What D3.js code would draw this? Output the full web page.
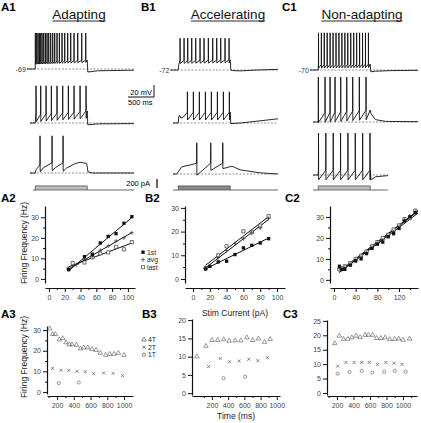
<!DOCTYPE html>
<html><head><meta charset="utf-8">
<script src="https://cdn.jsdelivr.net/npm/d3@7"></script>
<style>
body{margin:0;background:#fff}
svg{display:block}
text{font-family:"Liberation Sans",Arial,Helvetica,sans-serif}
</style>
</head><body>
<svg id="c" width="421" height="423"></svg>
<script>
// ---------------- DATA ----------------
const titles = ["Adapting", "Accelerating", "Non-adapting"];
const panelRow1 = ["A1", "B1", "C1"];
const panelRow2 = ["A2", "B2", "C2"];
const panelRow3 = ["A3", "B3", "C3"];
const restLabels = ["-69", "-72", "-70"];

// spike times (ms from trace start); stimulus 100-1100 ms
const spikesA1 = [102,128,154,180,205,231,263,295,327,359,397,436,474,519,564,615,667,724,782,846,917,994,1071];
const spikesA2 = [115,205,308,410,519,628,737,846,962,1077];
const spikesA3 = [192,423,635];
const spikesB1 = [135,212,282,359,436,519,596,679,763,840,917,1000,1077];
const spikesB2 = [276,391,506,622,737,853,968,1083];
const spikesB3 = [456,725,956];
const spikesC1 = [105,160,215,272,328,385,442,498,555,612,668,725,782,838,895,952,1008,1065];
const spikesC2 = [102,231,327,423,532,648,763,890,1019];
const spikesC3 = [105,246,388,529,671,812,954,1095];

// subthreshold envelopes [ms, mV above rest]
const envA1 = [[-60,0],[100,0],[102,12],[1100,15],[1112,-5],[1300,-3],[2000,-2]];
const envA2 = [[0,0],[100,0],[112,14],[1100,20],[1112,-3],[1300,-1.5],[2000,-1]];
const envA3 = [[0,0],[100,0],[120,6],[170,11],[192,15],[198,2],[260,9],[423,17],[428,4],[490,9],[635,17],[640,3],[700,8],[850,15],[960,18],[1090,16],[1115,2],[1200,0],[2000,0]];
const envB1 = [[-50,0],[100,0],[110,9],[125,13],[135,16],[1100,17],[1112,0],[1150,-1],[1300,-1.5],[1600,0],[2020,1]];
const envB2 = [[0,0],[100,0],[110,10],[125,13],[150,8],[200,10],[276,18],[1100,18],[1112,-1],[1300,0],[2020,7]];
const envB3 = [[0,0],[70,0],[167,12],[327,15],[456,18],[460,-2],[725,18],[729,6],[956,18],[960,9],[1135,13],[1290,7],[1670,2],[2020,0]];
const envC1 = [[-60,0],[100,0],[104,9],[1100,10],[1112,-3],[1200,-2],[1500,-1],[2020,-0.5]];
const envC2 = [[0,0],[100,0],[101,15],[1100,20],[1115,14],[1200,4],[1400,1],[2020,0.5]];
const envC3 = [[0,0],[100,0],[104,8],[1100,8],[1115,-8],[1200,-3],[1440,-1]];

const peaksMV = [[60,62,62],[53,52,52],[62,75,70]];   // spike peak, mV above rest
const ahpMV = [[4,12,0],[5,13,0],[6,16,16]];           // after-hyperpolarisation depth
const traceRange = [[[-60,2000],[0,2000],[0,2000]],[[-50,2020],[0,2020],[0,2020]],[[-60,2020],[0,2020],[0,1440]]];
const stimRange = [[55,2000],[0,2020],[0,1440]];
const stimOn = 100, stimOff = 1100;
const stimAmp = [90, 90, 90]; // pA

// f-I data
const a2X1 = [25,45,55,65,75,85,95,105];
const a2First = [4.5,10.8,12,17.5,20.7,22,27.1,30.3];
const a2XA = [25,35,45,55,65,75,85,95,105];
const a2Avg = [4.8,7,9.5,11,14,16,18.5,20,22.5];
const a2XL = [25,30,45,55,65,75,85,95,105];
const a2Last = [5,7.7,8,10.5,12.4,12.9,15.6,14.4,17.9];

const b2X1 = [15,20,30,40,50,60,70,80,90];
const b2First = [4.2,5.3,7.2,7.5,10.3,13.1,14.2,15.2,17];
const b2XA = [15,20,30,40,50,60,70,80,90];
const b2Avg = [4.5,5.5,9,12,15,17,19.5,21.5,25.5];
const b2XL = [15,30,40,60,70,80,90];
const b2Last = [4.6,10,13.8,20.1,19.7,22.5,26.5];

const c2X = [10,15,20,30,40,50,60,70,80,90,100,110,120,130,140,150];
const c2First = [6.5,5,5,7,9,10,12.5,15,17,18,20.5,22,24.5,28,30,32];
const c2Avg = [5.5,5,6,7.5,9.5,11,13,15.5,17.5,19,21,23,25.5,28.5,30.5,32.5];
const c2Last = [5,5.5,6.5,8,10,11.5,13.5,16,18,20,21.5,24,26,29,29.5,33];

// instantaneous frequency vs time
const a3T4x = [112,148,180,228,268,307,347,379,431,479,518,566,618,666,717,781,829,881,932,1000];
const a3T4y = [30.7,28,28,25.4,26,24,23,23,22.8,21,21.5,21.5,20.8,20.3,18.9,17.9,18.4,18.4,18.9,17.9];
const a3T2x = [148,248,339,439,538,638,757,869,984];
const a3T2y = [11.5,10.5,10.5,10,9.8,8.9,9.2,9,7.9];
const a3T1x = [220,459];
const a3T1y = [4.3,4.6];

const b3T4x = [15,126,200,270,344,413,487,557,631,704,774,848,918];
const b3T4y = [10,12.9,14.5,14.5,14.7,14.3,14.4,14.4,15.2,14.5,14.9,14,14.8];
const b3T2x = [159,302,417,536,655,766,885];
const b3T2y = [7.3,9.5,8.6,8.8,9.3,8.9,9.7];
const b3T1x = [344,610];
const b3T1y = [4.1,4.5];

const c3T4x = [172,228,280,332,380,432,480,540,580,632,680,732,784,840,900,948,1000,1080];
const c3T4y = [17.2,19.8,18.7,18.7,19.2,19.8,19.3,20.1,20.1,20.1,19,19,19.2,18.6,18.7,18.8,18.4,18.8];
const c3T2x = [208,308,408,500,592,692,792,892,988];
const c3T2y = [9.3,10.6,10.6,10.6,10.6,9.9,10.6,10.3,9.9];
const c3T1x = [208,352,500,628,772,900,1032];
const c3T1y = [6.7,7.3,7.7,7.1,7.4,7.7,7.4];

const fiLegend = ["1st", "avg", "last"];
const isiLegend = ["4T", "2T", "1T"];

// ---------------- DRAW ----------------
const svg = d3.select("#c");
const FONT = '"Liberation Sans",Arial,Helvetica,sans-serif';

// headings
const colTitleX = [79, 228, 362];
const colLabelX = [1, 141, 282];
titles.forEach((t,i)=>{
  const tx = svg.append("text").attr("x",colTitleX[i]).attr("y",19).attr("text-anchor","middle")
    .attr("font-size",13.5).attr("fill","#111").text(t);
  const bb = tx.node().getBBox();
  svg.append("line").attr("x1",bb.x).attr("x2",bb.x+bb.width).attr("y1",21).attr("y2",21)
    .attr("stroke","#111").attr("stroke-width",0.9);
  svg.append("text").attr("x",colLabelX[i]).attr("y",11).attr("font-size",11.5).attr("font-weight","bold").text(panelRow1[i]);
});
const row2LabelX = [1,145,285];
panelRow2.forEach((t,i)=>svg.append("text").attr("x",row2LabelX[i]).attr("y",202).attr("font-size",11.5).attr("font-weight","bold").text(t));
const row3LabelX = [1,142,283];
panelRow3.forEach((t,i)=>svg.append("text").attr("x",row3LabelX[i]).attr("y",318).attr("font-size",11.5).attr("font-weight","bold").text(t));

// ---- voltage traces ----
const colX0 = [30, 173, 313];
const restPx = [[69,123,173],[70,123,174],[70,122,175]];
const spikes = [[spikesA1,spikesA2,spikesA3],[spikesB1,spikesB2,spikesB3],[spikesC1,spikesC2,spikesC3]];
const envs = [[envA1,envA2,envA3],[envB1,envB2,envB3],[envC1,envC2,envC3]];

function interpEnv(env, t){
  if (t <= env[0][0]) return env[0][1];
  for (let i=1;i<env.length;i++){
    if (t <= env[i][0]){ const [a,va]=env[i-1],[b,vb]=env[i]; return va+(vb-va)*(t-a)/(b-a); }
  }
  return env[env.length-1][1];
}
function tracePoints(env, sp, peak, ahp, t0, t1){
  const ev = [];
  env.forEach(p=>{ if(!sp.some(s=>p[0]>=s && p[0]<=s+3)) ev.push([p[0],p[1]]); });
  sp.forEach(s=>{ ev.push([s, interpEnv(env,s)]); ev.push([s+0.8, peak]); ev.push([s+3, interpEnv(env,s+3)-ahp]); });
  ev.sort((a,b)=>a[0]-b[0]);
  return [[t0, interpEnv(env,t0)], ...ev.filter(e=>e[0]>t0 && e[0]<t1), [t1, interpEnv(env,t1)]];
}

for (let c=0;c<3;c++){
  const xT = d3.scaleLinear().domain([0,1000]).range([colX0[c], colX0[c]+52]);
  for (let r=0;r<3;r++){
    const yV = d3.scaleLinear().domain([0,100]).range([restPx[c][r], restPx[c][r]-60]);
    const [t0,t1] = traceRange[c][r];
    svg.append("line").attr("x1",xT(t0)).attr("x2",xT(t1)).attr("y1",yV(0)).attr("y2",yV(0))
      .attr("stroke","#777").attr("stroke-width",0.8).attr("stroke-dasharray","2,1.5");
    const pts = tracePoints(envs[c][r], spikes[c][r], peaksMV[c][r], ahpMV[c][r], t0, t1);
    svg.append("path").attr("d", d3.line().x(d=>xT(d[0])).y(d=>yV(d[1]))(pts))
      .attr("fill","none").attr("stroke","#111").attr("stroke-width",0.9).attr("stroke-linejoin","round");
  }
  // rest label
  svg.append("text").attr("x",xT(traceRange[c][0][0])-1).attr("y",restPx[c][0]+2.5).attr("text-anchor","end")
    .attr("font-size",7).attr("fill","#333").text(restLabels[c]);
  // stimulus
  const yI = d3.scaleLinear().domain([0,200]).range([190,181]);
  const [s0,s1] = stimRange[c];
  svg.append("path").attr("d", d3.line().x(d=>xT(d[0])).y(d=>yI(d[1]))([[s0,0],[stimOn,0]])).attr("stroke","#555").attr("stroke-width",0.9).attr("fill","none");
  svg.append("path").attr("d", d3.line().x(d=>xT(d[0])).y(d=>yI(d[1]))([[stimOff,0],[s1,0]])).attr("stroke","#555").attr("stroke-width",0.9).attr("fill","none");
  svg.append("rect").attr("x",xT(stimOn)).attr("y",yI(stimAmp[c])).attr("width",xT(stimOff)-xT(stimOn))
    .attr("height",yI(0)-yI(stimAmp[c])).attr("fill", c===1?"#8a8a8a":"#bdbdbd").attr("stroke","#555").attr("stroke-width",0.8);
}

// scale bars
{
  const xT = d3.scaleLinear().domain([0,500]).range([128,128+26]);
  const yV = d3.scaleLinear().domain([0,20]).range([97,85]);
  svg.append("path").attr("d",`M${xT(0)},${yV(0)}H${xT(500)}V${yV(20)}`).attr("fill","none").attr("stroke","#111").attr("stroke-width",1);
  svg.append("text").attr("x",xT(500)-2).attr("y",95).attr("text-anchor","end").attr("font-size",7.5).text("20 mV");
  svg.append("text").attr("x",xT(0)).attr("y",105).attr("font-size",7.5).text("500 ms");
  const yI = d3.scaleLinear().domain([0,200]).range([188,179]);
  svg.append("line").attr("x1",157).attr("x2",157).attr("y1",yI(0)).attr("y2",yI(200)).attr("stroke","#111").attr("stroke-width",1.3);
  svg.append("text").attr("x",150).attr("y",186).attr("text-anchor","end").attr("font-size",7.5).text("200 pA");
}

// ---- axis helpers ----
const fmt = d3.format("d");
function styleAxis(g){
  g.select(".domain").attr("stroke","#111").attr("stroke-width",1.2);
  g.selectAll(".tick line").attr("stroke","#111").attr("stroke-width",1);
  g.selectAll(".tick text").attr("font-size",7).attr("fill","#444").attr("font-family",FONT);
}
function yAxis(x, sc, major, minor){
  const g = svg.append("g").attr("transform",`translate(${x},0)`);
  g.call(d3.axisLeft(sc).tickValues(major).tickFormat(fmt).tickSize(4).tickSizeOuter(0).tickPadding(2));
  styleAxis(g);
  if (minor){ const m = svg.append("g").attr("transform",`translate(${x},0)`);
    m.call(d3.axisLeft(sc).tickValues(minor).tickSize(2).tickFormat("").tickSizeOuter(0)); m.select(".domain").remove(); styleAxis(m);}
}
function xAxis(y, sc, major, minor){
  const g = svg.append("g").attr("transform",`translate(0,${y})`);
  g.call(d3.axisBottom(sc).tickValues(major).tickFormat(fmt).tickSize(4).tickSizeOuter(0).tickPadding(3));
  styleAxis(g);
  if (minor){ const m = svg.append("g").attr("transform",`translate(0,${y})`);
    m.call(d3.axisBottom(sc).tickValues(minor).tickSize(2).tickFormat("").tickSizeOuter(0)); m.select(".domain").remove(); styleAxis(m);}
}
function fit(xs, ys){
  const mx = d3.mean(xs), my = d3.mean(ys);
  const b = d3.sum(xs.map((x,i)=>(x-mx)*(ys[i]-my))) / d3.sum(xs.map(x=>(x-mx)*(x-mx)));
  return {b, a: my - b*mx};
}
function drawFit(xs, ys, sx, sy, ext){
  const f = fit(xs, ys); const e = ext || d3.extent(xs);
  svg.append("path").attr("d", d3.line().x(d=>sx(d)).y(d=>sy(f.a+f.b*d))(e))
    .attr("stroke","#111").attr("stroke-width",1).attr("fill","none");
}
const sqFilled = d3.symbol().type(d3.symbolSquare).size(11);
const sqOpen = d3.symbol().type(d3.symbolSquare).size(10);
function points(xs, ys, sx, sy, kind, color){
  const g = svg.append("g");
  xs.forEach((x,i)=>{
    const tx = sx(x), ty = sy(ys[i]);
    if (kind==="filled") g.append("path").attr("d",sqFilled()).attr("transform",`translate(${tx},${ty})`).attr("fill","#111");
    else if (kind==="open") g.append("path").attr("d",sqOpen()).attr("transform",`translate(${tx},${ty})`).attr("fill","#fff").attr("stroke","#333").attr("stroke-width",0.7);
    else if (kind==="plus") g.append("path").attr("d",`M${tx-2},${ty}H${tx+2}M${tx},${ty-2}V${ty+2}`).attr("stroke","#333").attr("stroke-width",0.7);
    else if (kind==="tri") g.append("path").attr("d",d3.symbol().type(d3.symbolTriangle).size(9)()).attr("transform",`translate(${tx},${ty})`).attr("fill","none").attr("stroke",color||"#555").attr("stroke-width",0.6);
    else if (kind==="x") g.append("path").attr("d",`M${tx-1.5},${ty-1.5}L${tx+1.5},${ty+1.5}M${tx-1.5},${ty+1.5}L${tx+1.5},${ty-1.5}`).attr("stroke",color||"#555").attr("stroke-width",0.7);
    else if (kind==="circ") g.append("circle").attr("cx",tx).attr("cy",ty).attr("r",1.6).attr("fill","none").attr("stroke",color||"#555").attr("stroke-width",0.6);
  });
}

// ---- A2 ----
{
  const sx = d3.scaleLinear().domain([-5,109]).range([45,135]);
  const sy = d3.scaleLinear().domain([-2,35.5]).range([283,206]);
  yAxis(45, sy, [0,10,20,30], [5,15,25]);
  xAxis(288, sx, [0,20,40,60,80,100], [10,30,50,70,90]);
  drawFit(a2X1,a2First,sx,sy); drawFit(a2XA,a2Avg,sx,sy); drawFit(a2XL,a2Last,sx,sy);
  points(a2XL,a2Last,sx,sy,"open"); points(a2XA,a2Avg,sx,sy,"plus"); points(a2X1,a2First,sx,sy,"filled");
  svg.append("text").attr("transform","translate(27,243) rotate(-90)").attr("text-anchor","middle").attr("font-size",8.5).attr("fill","#222").text("Firing Frequency (Hz)");
  // legend
  const ly = [254.5,262,269.5];
  const kinds = ["filled","plus","open"];
  fiLegend.forEach((t,i)=>{
    points([0],[0],()=>143,()=>ly[i]-2.3,kinds[i]);
    svg.append("text").attr("x",147).attr("y",ly[i]).attr("font-size",6.8).attr("fill","#222").text(t);
  });
}
// ---- B2 ----
{
  const sx = d3.scaleLinear().domain([-9.5,109.5]).range([185,285]);
  const sy = d3.scaleLinear().domain([-1.7,30.8]).range([283,206]);
  yAxis(185, sy, [0,10,20,30], [5,15,25]);
  xAxis(288, sx, [0,20,40,60,80,100], [10,30,50,70,90]);
  drawFit(b2X1,b2First,sx,sy); drawFit(b2XA,b2Avg,sx,sy); drawFit(b2XL,b2Last,sx,sy);
  points(b2XL,b2Last,sx,sy,"open"); points(b2XA,b2Avg,sx,sy,"plus"); points(b2X1,b2First,sx,sy,"filled");
  svg.append("text").attr("x",235).attr("y",316).attr("text-anchor","middle").attr("font-size",8.5).attr("fill","#222").text("Stim Current (pA)");
}
// ---- C2 ----
{
  const sx = d3.scaleLinear().domain([-7.4,155]).range([330,418]);
  const sy = d3.scaleLinear().domain([-1.5,35.2]).range([283,206]);
  yAxis(330, sy, [0,10,20,30], [5,15,25]);
  xAxis(288, sx, [0,40,80,120], [20,60,100,140]);
  drawFit(c2X,c2First,sx,sy,[10,155]); drawFit(c2X,c2Avg,sx,sy,[10,155]); drawFit(c2X,c2Last,sx,sy,[10,155]);
  points(c2X,c2Last,sx,sy,"open"); points(c2X,c2Avg,sx,sy,"plus"); points(c2X,c2First,sx,sy,"filled");
}
// ---- A3 ----
{
  const sx = d3.scaleLinear().domain([80,1107]).range([47,133]);
  const sy = d3.scaleLinear().domain([-1,32]).range([394,326]);
  yAxis(47, sy, [0,10,20,30], [5,15,25]);
  xAxis(396, sx, [200,400,600,800,1000], [100,300,500,700,900]);
  points(a3T4x,a3T4y,sx,sy,"tri"); points(a3T2x,a3T2y,sx,sy,"x"); points(a3T1x,a3T1y,sx,sy,"circ");
  svg.append("text").attr("transform","translate(27,357) rotate(-90)").attr("text-anchor","middle").attr("font-size",8.5).attr("fill","#222").text("Firing Frequency (Hz)");
}
// ---- B3 ----
{
  const sx = d3.scaleLinear().domain([-46,1040]).range([192,280]);
  const sy = d3.scaleLinear().domain([-0.5,20.3]).range([395,319]);
  yAxis(192, sy, [0,5,10,15,20]);
  xAxis(396, sx, [200,400,600,800,1000], [100,300,500,700,900]);
  points(b3T4x,b3T4y,sx,sy,"tri"); points(b3T2x,b3T2y,sx,sy,"x"); points(b3T1x,b3T1y,sx,sy,"circ");
  svg.append("text").attr("x",236).attr("y",419).attr("text-anchor","middle").attr("font-size",8.5).attr("fill","#222").text("Time (ms)");
  const ly = [342,349.5,357];
  const kinds = ["tri","x","circ"];
  isiLegend.forEach((t,i)=>{
    points([0],[0],()=>144,()=>ly[i]-2.3,kinds[i],"#333");
    svg.append("text").attr("x",148).attr("y",ly[i]).attr("font-size",6.8).attr("fill","#222").text(t);
  });
}
// ---- C3 ----
{
  const sx = d3.scaleLinear().domain([79,1170]).range([327,417]);
  const sy = d3.scaleLinear().domain([-0.7,25.3]).range([395,320]);
  yAxis(327, sy, [0,5,10,15,20,25]);
  xAxis(396, sx, [200,400,600,800,1000], [100,300,500,700,900,1100]);
  points(c3T4x,c3T4y,sx,sy,"tri"); points(c3T2x,c3T2y,sx,sy,"x"); points(c3T1x,c3T1y,sx,sy,"circ");
}
</script>
</body></html>
